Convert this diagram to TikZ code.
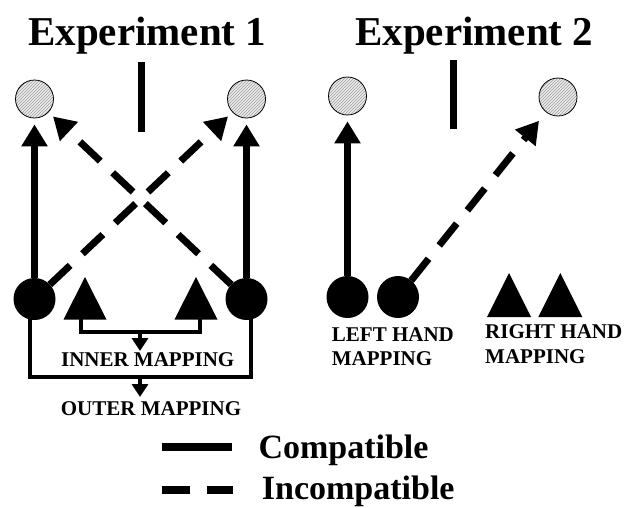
\documentclass[tikz,border=0pt]{standalone}
\usepackage{fontspec}
\setmainfont{Liberation Serif}
\usetikzlibrary{arrows.meta,patterns}
\begin{document}
\begin{tikzpicture}[x=1pt,y=-1pt,
  target/.style={circle,draw=black,line width=0.8pt,minimum size=38pt,inner sep=0pt,
    preaction={fill=gray!15},pattern=north east lines,pattern color=gray!75},
  key/.style={circle,fill=black,minimum size=42pt,inner sep=0pt,outer sep=0pt},
  thick link/.style={line width=7pt,-{Triangle[width=25pt,length=22pt]},shorten >=6pt},
  broken link/.style={thick link,dash pattern=on 28pt off 17pt},
  bracket/.style={line width=4pt,line cap=rect},
  small arrow/.style={line width=4pt,-{Triangle[width=16pt,length=13pt]}},
  bar/.style={line width=7pt},
  title/.style={font=\fontsize{41}{48}\selectfont\bfseries,inner sep=0pt,anchor=base west},
  caption/.style={font=\fontsize{21}{24}\selectfont\bfseries,inner sep=0pt},
  legend/.style={font=\fontsize{34}{40}\selectfont\bfseries,inner sep=0pt,anchor=base west},
]
\useasboundingbox (0,0) rectangle (636,507);

% titles and dividers
\node[title] (t1) at (28,45) {Experiment 1};
\node[title] (t2) at (355,45) {Experiment 2};
\coordinate (d1a) at (141,62);  \coordinate (d1b) at (141,132);
\coordinate (d2a) at (453,60);  \coordinate (d2b) at (453,129);
\draw[bar] (d1a) -- (d1b);
\draw[bar] (d2a) -- (d2b);

% ---- Experiment 1 ----
\node[target] (tl) at (34.5,99) {};
\node[target] (tr) at (246.5,99) {};
\node[key] (bl) at (34.5,299) {};
\node[key] (br) at (246.5,299) {};

\draw[thick link] (bl) -- (tl);
\draw[thick link] (br) -- (tr);
\draw[broken link] (bl) -- (tr);
\draw[broken link] (br) -- (tl);

% triangles
\fill (85,277) -- (106.5,319.5) -- (63.5,319.5) -- cycle;
\fill (196,277) -- (217.5,319.5) -- (174.5,319.5) -- cycle;

% inner mapping bracket
\coordinate (ia) at (81,319);
\coordinate (ib) at (200,319);
\coordinate (imid) at (140,331.7);
\coordinate (iend) at (140,351);
\draw[bracket] (ia) -- (81,331.7) -- (200,331.7) -- (ib);
\draw[small arrow] (imid) -- (iend);
\node[caption,anchor=base] (inner) at (147.7,366.7) {INNER MAPPING};

% outer mapping bracket
\coordinate (oa) at (30,318);
\coordinate (ob) at (250.7,318);
\coordinate (omid) at (140,376.7);
\coordinate (oend) at (140,397);
\draw[bracket] (oa) -- (30,376.7) -- (250.7,376.7) -- (ob);
\draw[small arrow] (omid) -- (oend);
\node[caption,anchor=base] (outer) at (151,415) {OUTER MAPPING};

% ---- Experiment 2 ----
\node[target] (ul) at (347.5,96) {};
\node[target] (ur) at (558,97) {};
\node[key] (kl) at (347.5,297) {};
\node[key] (kr) at (398,297) {};

\draw[thick link] (kl) -- (ul);
\draw[broken link,shorten >=11pt] (kr) -- (ur);

\fill (509,273) -- (531,317) -- (487,317) -- cycle;
\fill (560.3,273) -- (582.3,317) -- (538.3,317) -- cycle;

\node[caption,anchor=base west] (lh1) at (331.7,341.7) {LEFT HAND};
\node[caption,anchor=base west] (lh2) at (331.7,365) {MAPPING};
\node[caption,anchor=base west] (rh1) at (485,338.3) {RIGHT HAND};
\node[caption,anchor=base west] (rh2) at (485,363.3) {MAPPING};

% ---- legend ----
\coordinate (la) at (161.7,446.7); \coordinate (lb) at (231.7,446.7);
\draw[line width=8pt] (la) -- (lb);
\node[legend] (comp) at (258.3,458) {Compatible};
\coordinate (lc) at (161.7,490); \coordinate (ld) at (233.3,490);
\draw[line width=8pt,dash pattern=on 28.3pt off 16.7pt] (lc) -- (ld);
\node[legend] (incomp) at (261.7,499.5) {Incompatible};
\end{tikzpicture}
\end{document}
